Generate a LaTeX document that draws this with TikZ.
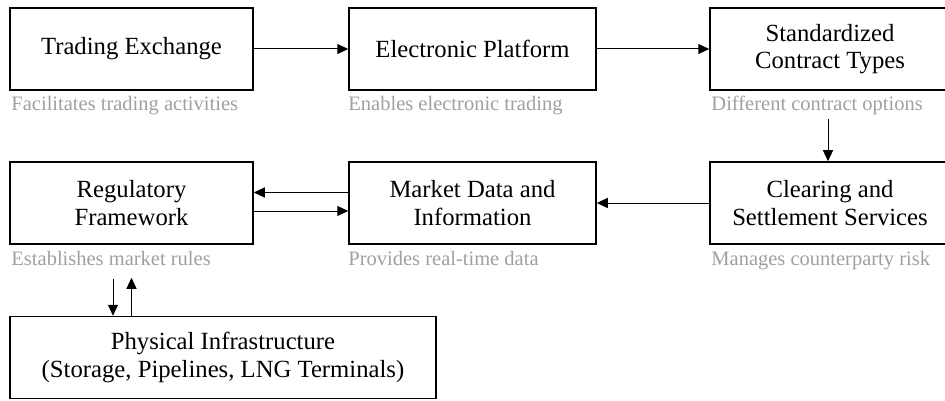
\documentclass[tikz,border=0pt]{standalone}
\usepackage{fontspec}
\setmainfont{Liberation Serif}
\usetikzlibrary{arrows.meta,calc}
\definecolor{notegray}{RGB}{160,160,160}

\begin{document}
\begin{tikzpicture}[x=1pt, y=-1pt,
    box/.style={rectangle, draw, line width=1.5pt, inner sep=0pt, minimum height=82pt, align=center, font=\fontsize{24.7}{27.5}\selectfont},
    note/.style={anchor=base west, inner sep=0pt, text=notegray, font=\fontsize{20.5}{24}\selectfont},
    flow/.style={->, line width=1pt}, >={Triangle[length=11pt,width=10pt]}]
    \useasboundingbox (0,0) rectangle (945,401);
    % Boxes
    \node[box, minimum width=243pt] (trade) at (131.5,49) {Trading Exchange};
    \node[box, minimum width=247pt] (elec) at (472.5,49) {Electronic Platform};
    \node[box, minimum width=240pt] (std) at (830,49) {Standardized\\Contract Types};
    \node[box, minimum width=240pt] (clear) at (830,203) {Clearing and\\Settlement Services};
    \node[box, minimum width=247pt] (market) at (472.5,203) {Market Data and\\Information};
    \node[box, minimum width=243pt] (reg) at (131.5,203) {Regulatory\\Framework};
    \node[box, minimum width=426pt] (phys) at (223,357.5) {Physical Infrastructure\\(Storage, Pipelines, LNG Terminals)};
    % Notes
    \node[note] (tradenote) at ($(trade.south west)+(2,20)$) {Facilitates trading activities};
    \node[note] (elecnote) at ($(elec.south west)+(0,20)$) {Enables electronic trading};
    \node[note] (stdnote) at ($(std.south west)+(2,20)$) {Different contract options};
    \node[note] (clearnote) at ($(clear.south west)+(2,21)$) {Manages counterparty risk};
    \node[note] (marketnote) at ($(market.south west)+(0,21)$) {Provides real-time data};
    \node[note] (regnote) at ($(reg.south west)+(2,21)$) {Establishes market rules};
    % Arrows
    \coordinate (stdout) at ($(stdnote.south -| clear.north)+(-2,4)$);
    \coordinate (regout) at ($(reg.south)+(-18.5,34)$);
    \coordinate (regin) at ($(reg.south)+(0,33)$);
    \draw[flow] (trade.east) -- (trade.east -| elec.west);
    \draw[flow] (elec.east) -- (elec.east -| std.west);
    \draw[flow] (stdout) -- (stdout |- clear.north);
    \draw[flow] (clear.west) -- (clear.west -| market.east);
    \draw[flow] ([yshift=10.5pt]market.west) -- ([yshift=10.5pt]market.west -| reg.east);
    \draw[flow] ([yshift=-8pt]reg.east) -- ([yshift=-8pt]reg.east -| market.west);
    \draw[flow] (regout) -- (regout |- phys.north);
    \draw[flow] (regin |- phys.north) -- (regin);
\end{tikzpicture}
\end{document}
